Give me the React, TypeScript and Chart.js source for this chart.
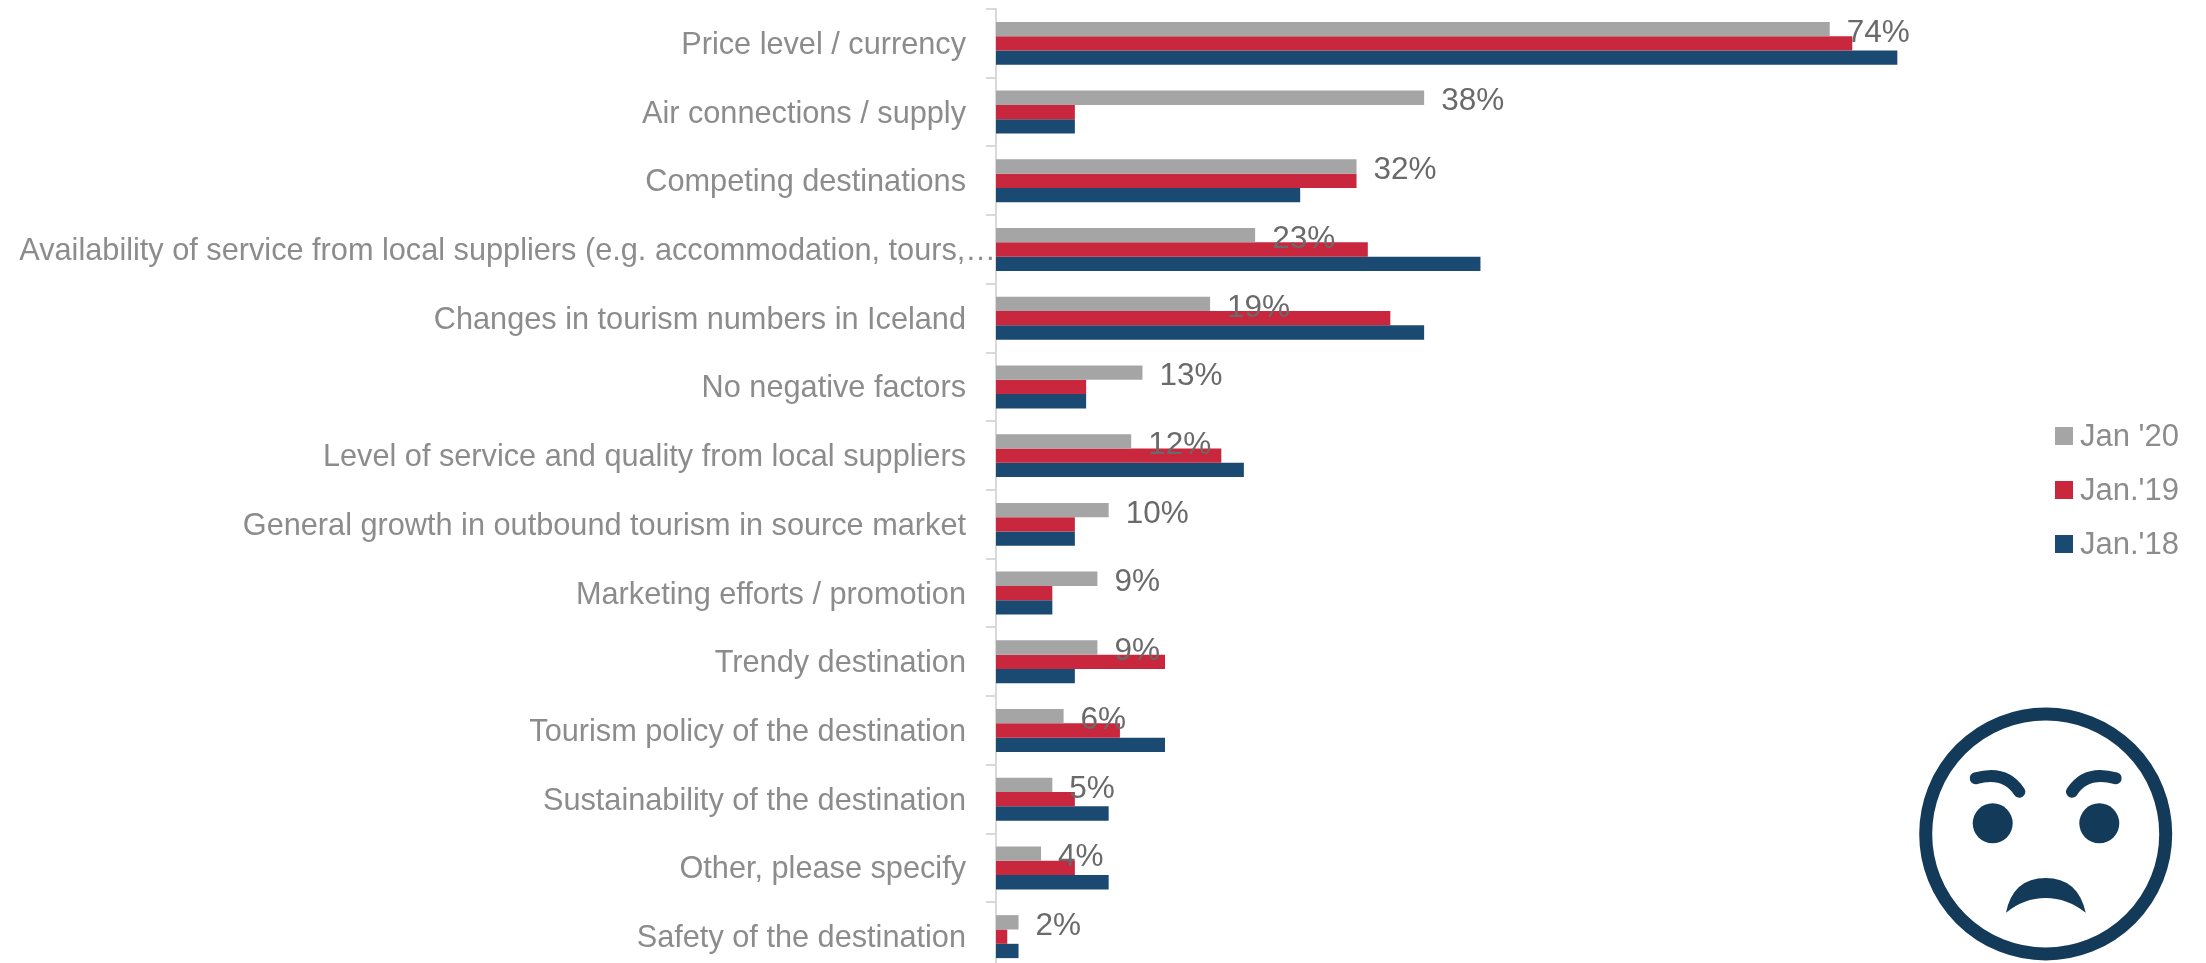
import React, { useEffect, useRef } from "react";
import { Chart, registerables } from "chart.js";

Chart.register(...registerables);

const categories = [
  "Price level / currency",
  "Air connections / supply",
  "Competing destinations",
  "Availability of service from local suppliers (e.g. accommodation, tours,…",
  "Changes in tourism numbers in Iceland",
  "No negative factors",
  "Level of service and quality from local suppliers",
  "General growth in outbound tourism in source market",
  "Marketing efforts / promotion",
  "Trendy destination",
  "Tourism policy of the destination",
  "Sustainability of the destination",
  "Other, please specify",
  "Safety of the destination",
];
const jan20 = [74, 38, 32, 23, 19, 13, 12, 10, 9, 9, 6, 5, 4, 2];
const jan19 = [76, 7, 32, 33, 35, 8, 20, 7, 5, 15, 11, 7, 7, 1];
const jan18 = [80, 7, 27, 43, 38, 8, 22, 7, 5, 7, 15, 10, 10, 2];
const seriesNames = ["Jan '20", "Jan.'19", "Jan.'18"];
const seriesColors = ["#A5A5A5", "#C8273D", "#1A4A72"];

const LONG_INDEX = 3;
const FONT_FAMILY = "'Liberation Sans', Arial, sans-serif";
const FONT_WEIGHT = "400";
const LABEL_SIZE = 30.7;
const LABEL_SHIFT = 2;

const overlay = {
  id: "overlay",
  afterDraw(chart: any) {
    const { ctx, scales } = chart;
    const x = scales.x;
    const y = scales.y;
    ctx.save();
    // gray series value labels
    ctx.font = `${FONT_WEIGHT} 31.5px ${FONT_FAMILY}`;
    ctx.fillStyle = "#6A6A6A";
    ctx.textAlign = "left";
    ctx.textBaseline = "middle";
    const meta = chart.getDatasetMeta(0);
    jan20.forEach((v, i) => {
      ctx.fillText(`${v}%`, x.getPixelForValue(v) + 17, meta.data[i].y + 4);
    });
    // long category label
    ctx.font = `${FONT_WEIGHT} ${LABEL_SIZE}px ${FONT_FAMILY}`;
    ctx.fillStyle = "#8C8C8C";
    ctx.textAlign = "right";
    ctx.fillText(categories[LONG_INDEX], 996, y.getPixelForTick(LONG_INDEX) + LABEL_SHIFT);
    // legend
    ctx.textAlign = "left";
    chart.data.datasets.forEach((d: any, i: number) => {
      const top = 427 + i * 54;
      ctx.fillStyle = d.backgroundColor;
      ctx.fillRect(2055, top, 18, 18);
      ctx.fillStyle = "#8C8C8C";
      ctx.font = `${FONT_WEIGHT} 31px ${FONT_FAMILY}`;
      ctx.fillText(d.label, 2080, top + 10);
    });
    ctx.restore();
  },
};

export default function App() {
  const ref = useRef<HTMLCanvasElement>(null);
  useEffect(() => {
    const chart = new Chart(ref.current!, {
      type: "bar",
      data: {
        labels: categories,
        datasets: [jan20, jan19, jan18].map((data, i) => ({
          label: seriesNames[i],
          data,
          backgroundColor: seriesColors[i],
          categoryPercentage: 0.625,
          barPercentage: 1,
        })),
      },
      options: {
        indexAxis: "y",
        animation: false,
        responsive: false,
        devicePixelRatio: 1,
        layout: { padding: { top: 9, bottom: 9, right: 196, left: 0 } },
        plugins: { legend: { display: false }, tooltip: { enabled: false } },
        scales: {
          x: { display: false, min: 0, max: 90 },
          y: {
            afterFit: (s: any) => {
              s.width = 996;
              s.paddingTop = 0;
              s.paddingBottom = 0;
            },
            border: { color: "#D9D9D9", width: 2 },
            grid: { drawOnChartArea: false, color: "#D9D9D9", lineWidth: 2, tickLength: 10, offset: true },
            ticks: {
              autoSkip: false,
              padding: 20,
              labelOffset: LABEL_SHIFT,
              color: "#8C8C8C",
              font: { family: FONT_FAMILY, size: LABEL_SIZE, weight: FONT_WEIGHT },
              callback: (_v: any, i: number) => (i === LONG_INDEX ? "" : categories[i]),
            },
          },
        },
      },
      plugins: [overlay],
    } as any);
    return () => chart.destroy();
  }, []);
  return (
    <div style={{ position: "fixed", inset: 0, overflow: "hidden", background: "#fff" }}>
      <canvas ref={ref} width={2206} height={980} style={{ display: "block" }} />
      <svg
        viewBox="0 0 326 283"
        width={326}
        height={283}
        style={{ position: "absolute", left: 1880, top: 680 }}
      >
        <circle cx={165.7} cy={154} r={120} fill="none" stroke="#143A5A" strokeWidth={13} />
        <circle cx={112.7} cy={143.3} r={20} fill="#143A5A" />
        <circle cx={219.3} cy={143.3} r={20} fill="#143A5A" />
        <path d="M95.7 98.3 Q125 90 139.3 111.7" fill="none" stroke="#143A5A" strokeWidth={12} strokeLinecap="round" />
        <path d="M235.7 98.3 Q206 90 192 111.7" fill="none" stroke="#143A5A" strokeWidth={12} strokeLinecap="round" />
        <path d="M126 232.7 Q133 198 165.7 198 Q198 198 205.7 232.7 Q187 218 165.7 218 Q144 218 126 232.7 Z" fill="#143A5A" />
      </svg>
    </div>
  );
}
